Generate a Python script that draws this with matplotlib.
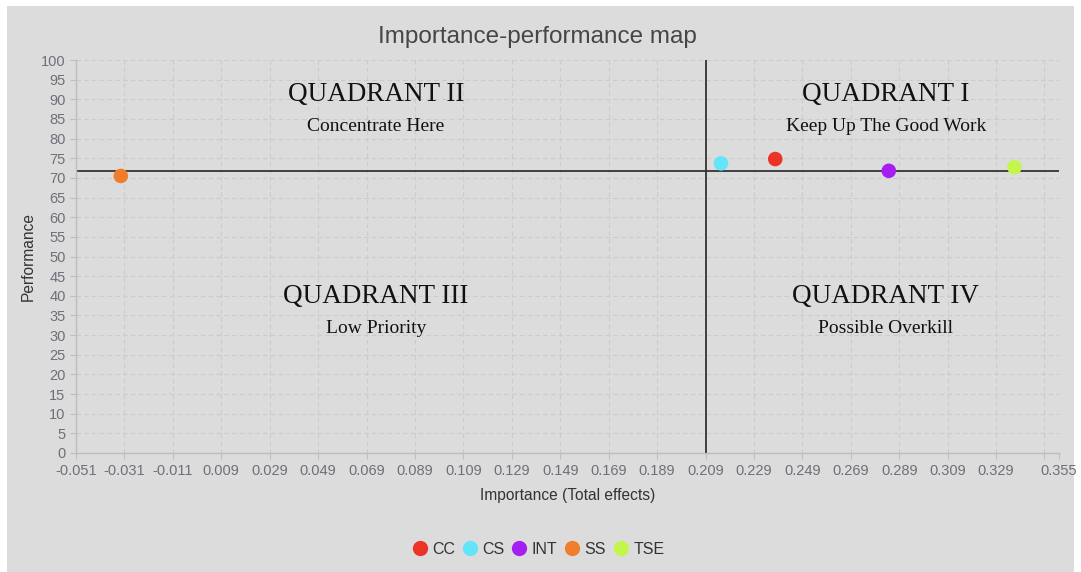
import numpy as np
import matplotlib
matplotlib.use('Agg')
import matplotlib.pyplot as plt
from matplotlib.patches import Rectangle
from matplotlib.lines import Line2D

# Données
names = ['CC', 'CS', 'INT', 'SS', 'TSE']
importance = [0.2378, 0.2154, 0.2847, -0.0325, 0.3366]
performance = [74.8, 73.7, 71.8, 70.5, 72.7]
colors = ['#ec3326', '#64e4f9', '#a51ff0', '#f07d2c', '#c3f54a']

# Lignes de séparation des quadrants
x_cut = 0.209
y_cut = 71.8

x_min, x_max = -0.051, 0.355
x_ticks = [-0.051, -0.031, -0.011, 0.009, 0.029, 0.049, 0.069, 0.089, 0.109,
           0.129, 0.149, 0.169, 0.189, 0.209, 0.229, 0.249, 0.269, 0.289,
           0.309, 0.329, 0.349, 0.355]
x_labels = ['-0.051', '-0.031', '-0.011', '0.009', '0.029', '0.049', '0.069',
            '0.089', '0.109', '0.129', '0.149', '0.169', '0.189', '0.209',
            '0.229', '0.249', '0.269', '0.289', '0.309', '0.329', '', '0.355']
y_ticks = list(range(0, 101, 5))

quadrants = [
    ('QUADRANT II', 'Concentrate Here', 0.305, 0.911),
    ('QUADRANT I', 'Keep Up The Good Work', 0.824, 0.911),
    ('QUADRANT III', 'Low Priority', 0.305, 0.397),
    ('QUADRANT IV', 'Possible Overkill', 0.824, 0.397),
]

plt.rcParams['font.family'] = ['Liberation Sans', 'DejaVu Sans']

W, H = 1081, 572
fig = plt.figure(figsize=(W / 100, H / 100), dpi=100)
fig.patch.set_facecolor('white')
fig.add_artist(Rectangle((7 / W, 0), 1067 / W, (H - 6) / H, transform=fig.transFigure,
                         facecolor='#dcdcdc', edgecolor='none', zorder=-10))

ax = fig.add_axes([76 / W, (H - 453) / H, 983 / W, 393 / H])
ax.set_facecolor('none')

ax.set_xlim(x_min, x_max)
ax.set_ylim(0, 100)
ax.set_xticks(x_ticks)
ax.set_xticklabels(x_labels)
ax.set_yticks(y_ticks)

ax.grid(True, linestyle=(0, (4, 3)), color='#cbcbcb', linewidth=0.8, zorder=0)
for s in ['top', 'right']:
    ax.spines[s].set_visible(False)
for s in ['left', 'bottom']:
    ax.spines[s].set_color('#bdbdbd')
    ax.spines[s].set_linewidth(1.0)
ax.tick_params(axis='both', colors='#bdbdbd', labelcolor='#6e7079', labelsize=10.5, length=4)
ax.tick_params(axis='x', pad=4)

ax.axhline(y_cut, color='#333333', lw=1.3, zorder=2)
ax.axvline(x_cut, color='#333333', lw=1.3, zorder=2)

for n, x, y, c in zip(names, importance, performance, colors):
    ax.scatter(x, y, s=110, color=c, edgecolors='none', zorder=3, label=n)

for title, sub, qx, qy in quadrants:
    ax.text(qx, qy, title, transform=ax.transAxes, ha='center', va='center',
            fontsize=19.5, family='Liberation Serif', color='#111111')
    ax.text(qx, qy - 0.080, sub, transform=ax.transAxes, ha='center', va='center',
            fontsize=14, family='Liberation Serif', color='#111111')

ax.set_xlabel('Importance (Total effects)', fontsize=11.2, color='#333333', labelpad=7)
ax.set_ylabel('Performance', fontsize=11.2, color='#333333', labelpad=4)

fig.text(537 / W, 1 - 37 / H, 'Importance-performance map', ha='center', va='center',
         fontsize=17.5, color='#464646')

handles = [Line2D([], [], marker='o', linestyle='none', markersize=11,
                  markerfacecolor=c, markeredgecolor='none') for c in colors]
fig.legend(handles, names, loc='center', bbox_to_anchor=(538 / W, 1 - 549 / H),
           ncol=5, frameon=False, fontsize=11.5, handlelength=1.0, handletextpad=0.3,
           columnspacing=0.4, labelcolor='#333333')

fig.savefig('out.png', dpi=100)
